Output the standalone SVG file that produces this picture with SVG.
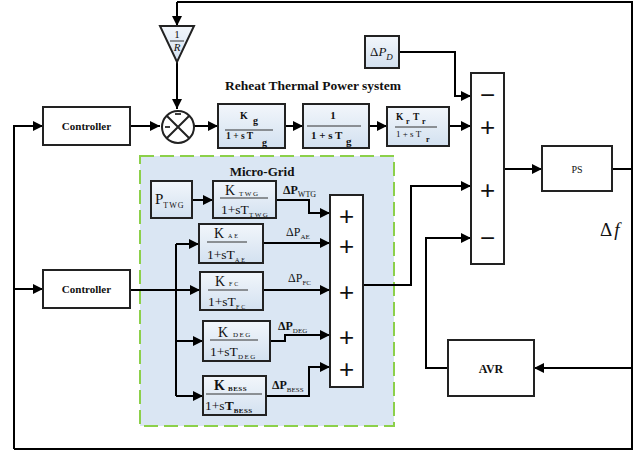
<svg xmlns="http://www.w3.org/2000/svg" width="634" height="450" viewBox="0 0 634 450">
<defs>
<marker id="ar" viewBox="0 0 10 10" refX="10" refY="5" markerWidth="12" markerHeight="10" markerUnits="userSpaceOnUse" orient="auto"><path d="M0,0 L10,5 L0,10 z" fill="#000"/></marker>
<linearGradient id="bg" x1="0" y1="0" x2="0" y2="1"><stop offset="0" stop-color="#f2f6fb"/><stop offset="1" stop-color="#d3e1f0"/></linearGradient>
</defs>
<style>
.ln{fill:none;stroke:#000;stroke-width:2}
.la{fill:none;stroke:#000;stroke-width:2;marker-end:url(#ar)}
.bx{fill:#fff;stroke:#222;stroke-width:2}
.tf{fill:url(#bg);stroke:#222;stroke-width:2}
.sm{fill:#fff;stroke:#222;stroke-width:2}
.fr{stroke:#333;stroke-width:1}
text{font-family:"Liberation Serif","Times New Roman",serif;fill:#111}
.b{font-weight:bold}
.sg{font-family:"Liberation Sans",Arial,sans-serif;font-size:26px;text-anchor:middle}
</style>
<rect width="634" height="450" fill="#fff"/>

<g id="microgrid">
<rect x="140" y="156" width="254" height="270" fill="#dae6f3" stroke="#8cd04a" stroke-width="2" stroke-dasharray="14,6"/>
<text x="262" y="176" class="b" font-size="13" text-anchor="middle">Micro-Grid</text>
</g>

<g id="connectors">
<path class="ln" d="M632,169 V2 H177"/>
<path class="la" d="M177,2 V26"/>
<path class="la" d="M177,62 V109"/>
<path class="la" d="M14,449 V126 H43"/>
<path class="la" d="M130,126 H160"/>
<path class="la" d="M194,126 H218"/>
<path class="la" d="M285,126 H303"/>
<path class="la" d="M369,126 H387"/>
<path class="la" d="M449,126 H471"/>
<path class="la" d="M399,52 H455 V96 H471"/>
<path class="la" d="M504,169 H542"/>
<path class="ln" d="M612,169 H632 V449 H14"/>
<path class="la" d="M632,368 H534"/>
<path class="la" d="M448,368 H426 V238 H471"/>
<path class="la" d="M363,285 H411 V186 H471"/>
<path class="la" d="M14,289 H43"/>
<path class="la" d="M130,290 H200"/>
<path class="ln" d="M176,244 V396"/>
<path class="la" d="M176,244 H199"/>
<path class="la" d="M176,341 H203"/>
<path class="la" d="M176,396 H203"/>
<path class="la" d="M192,200 H213"/>
<path class="la" d="M276,200 H309 V213 H330"/>
<path class="la" d="M263,243 H330"/>
<path class="la" d="M263,290 H330"/>
<path class="la" d="M270,341 H285 V335 H330"/>
<path class="la" d="M266,396 H309 V367 H330"/>
</g>

<g id="gain-R">
<polygon points="160,26 194,26 177,62" fill="url(#bg)" stroke="#222" stroke-width="2"/>
<text x="177" y="38" font-size="11" text-anchor="middle">1</text>
<line x1="170" y1="41" x2="184" y2="41" class="fr"/>
<text x="177" y="51" font-size="11" font-style="italic" text-anchor="middle">R</text>
</g>

<g id="sum-circle">
<circle cx="178" cy="127" r="16" fill="#fff" stroke="#222" stroke-width="2"/>
<path d="M166.7,115.7 L189.3,138.3 M189.3,115.7 L166.7,138.3" stroke="#222" stroke-width="2"/>
<path d="M175,114 H181 M165,127 H170" stroke="#000" stroke-width="1.5"/>
</g>

<g id="controller1">
<rect class="bx" x="43" y="107" width="87" height="38"/>
<text x="86.5" y="130" class="b" font-size="11" text-anchor="middle">Controller</text>
</g>

<text x="313" y="90" class="b" font-size="13.5" text-anchor="middle">Reheat Thermal Power system</text>

<g id="governor">
<rect class="tf" x="218" y="104" width="67" height="44"/>
<text x="240" y="119" class="b" font-size="10">K</text>
<text x="253" y="124" class="b" font-size="10">g</text>
<line x1="225" y1="130" x2="273" y2="130" class="fr"/>
<text x="226" y="139" class="b" font-size="9.5" xml:space="preserve">1 + s T</text>
<text x="262" y="146" class="b" font-size="10">g</text>
</g>

<g id="turbine">
<rect class="tf" x="303" y="104" width="66" height="44"/>
<text x="333" y="119" class="b" font-size="11" text-anchor="middle">1</text>
<line x1="307" y1="126" x2="361" y2="126" class="fr"/>
<text x="311" y="139" class="b" font-size="11" xml:space="preserve">1 + s T</text>
<text x="346" y="145" class="b" font-size="11">g</text>
</g>

<g id="reheater">
<rect class="tf" x="387" y="107" width="62" height="39"/>
<text x="396" y="120" class="b" font-size="9.5">K</text>
<text x="406" y="124" class="b" font-size="8">r</text>
<text x="413" y="120" class="b" font-size="9.5">T</text>
<text x="422" y="124" class="b" font-size="8">r</text>
<line x1="395" y1="127" x2="437" y2="127" class="fr"/>
<text x="396" y="137" font-size="9" xml:space="preserve">1 + s T</text>
<text x="426" y="142" class="b" font-size="8">r</text>
</g>

<g id="load-disturbance">
<rect class="tf" x="365" y="36" width="34" height="32"/>
<text x="370" y="56" font-size="13">Δ<tspan font-style="italic">P</tspan><tspan font-size="9" dy="4" font-style="italic">D</tspan></text>
</g>

<g id="main-sum">
<rect class="sm" x="471" y="73" width="33" height="191"/>
<text x="487.5" y="104" class="sg">−</text>
<text x="487.5" y="136" class="sg">+</text>
<text x="487.5" y="199" class="sg">+</text>
<text x="487.5" y="247" class="sg">−</text>
</g>

<g id="ps">
<rect class="bx" x="542" y="146" width="70" height="45"/>
<text x="577" y="173" font-size="10" text-anchor="middle">PS</text>
</g>

<text x="600" y="236" font-size="19" fill="#444">Δ<tspan font-style="italic" dx="2">f</tspan></text>

<g id="avr">
<rect class="bx" x="448" y="340" width="86" height="56"/>
<text x="491" y="373" class="b" font-size="12" text-anchor="middle">AVR</text>
</g>

<g id="controller2">
<rect class="bx" x="43" y="270" width="87" height="38"/>
<text x="86.5" y="293" class="b" font-size="11" text-anchor="middle">Controller</text>
</g>

<g id="p-twg">
<rect class="tf" x="151" y="181" width="41" height="37"/>
<text x="155" y="204" font-size="15">P<tspan font-size="8" dy="4" letter-spacing="1">TWG</tspan></text>
</g>

<g id="wind">
<rect class="tf" x="213" y="181" width="63" height="37"/>
<text x="225" y="195" font-size="14">K</text>
<text x="239" y="196" font-size="7" letter-spacing="1.5">TWG</text>
<line x1="220" y1="198" x2="268" y2="198" class="fr"/>
<text x="221" y="214" font-size="13.5">1+sT<tspan font-size="7" dy="3" letter-spacing="1.5">TWG</tspan></text>
</g>

<g id="ae">
<rect class="tf" x="199" y="224" width="64" height="39"/>
<text x="214" y="238" font-size="14">K</text>
<text x="228" y="238" font-size="6" letter-spacing="2">AE</text>
<line x1="207" y1="242" x2="247" y2="242" class="fr"/>
<text x="207" y="259" font-size="13.5">1+sT<tspan font-size="6" dy="3" letter-spacing="2">AE</tspan></text>
</g>

<g id="fc">
<rect class="tf" x="200" y="272" width="63" height="38"/>
<text x="215" y="286" font-size="14">K</text>
<text x="229" y="286" font-size="6" letter-spacing="2">FC</text>
<line x1="208" y1="290" x2="248" y2="290" class="fr"/>
<text x="208" y="306" font-size="13.5">1+sT<tspan font-size="6" dy="3" letter-spacing="2">FC</tspan></text>
</g>

<g id="deg">
<rect class="tf" x="203" y="321" width="67" height="40"/>
<text x="218" y="337" font-size="14">K</text>
<text x="233" y="337" font-size="7" letter-spacing="1.5">DEG</text>
<line x1="210" y1="340" x2="258" y2="340" class="fr"/>
<text x="210" y="356" font-size="13.5">1+sT<tspan font-size="7" dy="3" letter-spacing="1.5">DEG</tspan></text>
</g>

<g id="bess">
<rect class="tf" x="203" y="376" width="63" height="39"/>
<text x="214" y="390" class="b" font-size="14">K</text>
<text x="228" y="391" class="b" font-size="7" letter-spacing="0.5">BESS</text>
<line x1="206" y1="394" x2="262" y2="394" class="fr"/>
<text x="205" y="410" font-size="13.5">1+s<tspan class="b">T</tspan><tspan class="b" font-size="7" dy="3" letter-spacing="0.5">BESS</tspan></text>
</g>

<g id="mg-sum">
<rect class="sm" x="330" y="195" width="33" height="192" fill="#dae6f3"/>
<text x="346.5" y="225" class="sg">+</text>
<text x="346.5" y="255" class="sg">+</text>
<text x="346.5" y="301" class="sg">+</text>
<text x="346.5" y="346" class="sg">+</text>
<text x="346.5" y="378" class="sg">+</text>
</g>

<g id="dp-labels">
<text x="283" y="194" class="b" font-size="12">ΔP<tspan font-size="8" dy="3" font-weight="normal">WTG</tspan></text>
<text x="286" y="236" font-size="12">ΔP<tspan font-size="7" dy="3">AE</tspan></text>
<text x="288" y="282" font-size="12">ΔP<tspan font-size="7" dy="3">FC</tspan></text>
<text x="278" y="330" class="b" font-size="12">ΔP<tspan font-size="7" dy="3" font-weight="normal">DEG</tspan></text>
<text x="272" y="389" class="b" font-size="12">ΔP<tspan font-size="7" dy="3" font-weight="normal">BESS</tspan></text>
</g>
</svg>
